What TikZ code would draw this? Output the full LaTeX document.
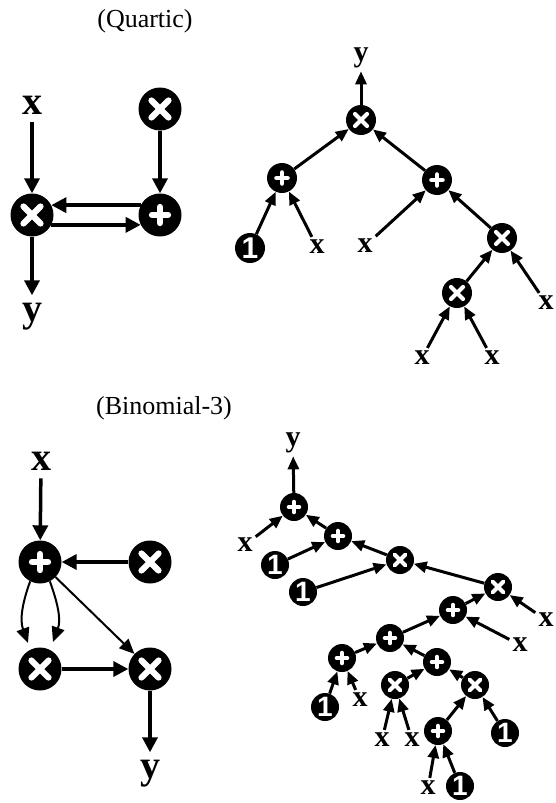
\documentclass[tikz,border=0pt]{standalone}
\usepackage{fontspec}
\setmainfont{Liberation Serif}
\newfontfamily\arialfont{Liberation Sans}
\usetikzlibrary{arrows.meta}

\begin{document}
\begin{tikzpicture}[x=1pt, y=-1pt,
    gate/.style={circle, fill=black, inner sep=0pt, minimum size=#1pt},
    mul/.style={gate=#1, path picture={
        \draw[white, line width=0.14*#1pt, line cap=round]
          (path picture bounding box.center) ++(-0.2*#1pt,-0.2*#1pt) -- ++(0.4*#1pt,0.4*#1pt)
          (path picture bounding box.center) ++(-0.2*#1pt,0.2*#1pt) -- ++(0.4*#1pt,-0.4*#1pt);}},
    add/.style={gate=#1, path picture={
        \draw[white, line width=0.16*#1pt, line cap=round]
          (path picture bounding box.center) ++(-0.18*#1pt,0) -- ++(0.36*#1pt,0)
          (path picture bounding box.center) ++(0,-0.18*#1pt) -- ++(0,0.36*#1pt);}},
    one/.style={gate=#1, text=white, font=\arialfont\bfseries\fontsize{#1}{#1}\selectfont},
    title/.style={font=\fontsize{26}{30}\selectfont},
    biglbl/.style={font=\bfseries\fontsize{40}{40}\selectfont, inner sep=8pt},
    lbl/.style={font=\bfseries\fontsize{30}{30}\selectfont, inner sep=3pt},
    bigarr/.style={line width=3.5pt, -{Triangle[length=15pt,width=15pt]}},
    thinarr/.style={line width=2pt, -{Triangle[length=15pt,width=13pt]}},
    arr/.style={line width=3pt, -{Triangle[length=13pt,width=11pt]}}]
  \useasboundingbox (0,0) rectangle (555,803);

  % Quartic: loop graph
  \node[title] (qtitle) at (145,21) {(Quartic)};
  \node[biglbl] (qx) at (32,105) {x};
  \node[mul=43] (qm1) at (32,215) {};
  \node[mul=43] (qm2) at (160,109) {};
  \node[add=43] (qa) at (160,215) {};
  \node[biglbl] (qy) at (32,317) {y};
  \draw[bigarr] (qx) -- (qm1);
  \draw[bigarr] (qm2) -- (qa);
  \draw[bigarr] (qa.153) -- (qm1.27);
  \draw[bigarr] (qm1.-27) -- (qa.207);
  \draw[bigarr] (qm1) -- (qy);

  % Quartic: expression tree
  \node[lbl] (ty) at (361,58) {y};
  \node[mul=30] (tr) at (361,120) {};
  \foreach \n/\x/\y in {ta1/282/178, ta2/437/180}
    \node[add=30] (\n) at (\x,\y) {};
  \foreach \n/\x/\y in {tm1/502/238, tm2/457/293}
    \node[mul=30] (\n) at (\x,\y) {};
  \node[one=30] (t1) at (250,248) {1};
  \foreach \n/\x/\y in {tx1/317/247, tx2/365/246, tx3/546/303, tx4/422/358, tx5/492/358}
    \node[lbl] (\n) at (\x,\y) {x};
  \draw[arr] (tr) -- (ty);
  \foreach \a/\b in {ta1/tr, ta2/tr, t1/ta1, tx1/ta1, tx2/ta2, tm1/ta2, tx3/tm1, tm2/tm1, tx4/tm2, tx5/tm2}
    \draw[arr] (\a) -- (\b);

  % Binomial-3: graph
  \node[title] (btitle) at (164,408) {(Binomial-3)};
  \node[biglbl] (bx) at (41,461) {x};
  \node[add=43] (ba) at (40,562) {};
  \node[mul=43] (bm1) at (150,562) {};
  \node[mul=43] (bm2) at (40,669) {};
  \node[mul=43] (bm3) at (150,669) {};
  \node[biglbl] (by) at (150,774) {y};
  \coordinate (tipl) at (28,643);
  \coordinate (tipr) at (53,642);
  \draw[bigarr] (bx) -- (ba);
  \draw[bigarr] (bm1) -- (ba);
  \draw[bigarr] (bm2) -- (bm3);
  \draw[bigarr] (bm3) -- (by);
  \draw[thinarr] (ba) -- (bm3);
  \draw[thinarr] (ba.243) to[out=250, in=110] (tipl);
  \draw[thinarr] (ba.297) to[out=290, in=70] (tipr);

  % Binomial-3: expression tree
  \node[lbl] (ry) at (293,443) {y};
  \foreach \n/\x/\y in {r1/294/507, r2/338/536, r5/453/610, r6/390/638, r7/342/658, r8/437/662, r11/438/731}
    \node[add=28] (\n) at (\x,\y) {};
  \foreach \n/\x/\y in {r3/400/560, r4/498/587, r9/395/685, r10/475/685}
    \node[mul=28] (\n) at (\x,\y) {};
  \foreach \n/\x/\y in {ro1/275/565, ro2/303/592, ro3/325/707, ro4/505/733, ro5/460/786}
    \node[one=28] (\n) at (\x,\y) {1};
  \foreach \n/\x/\y in {rx1/245/545, rx2/546/620, rx3/520/645, rx4/360/700, rx5/382/740, rx6/412/740, rx7/428/788}
    \node[lbl] (\n) at (\x,\y) {x};
  \draw[arr] (r1) -- (ry);
  \foreach \a/\b in {rx1/r1, r2/r1, ro1/r2, r3/r2, ro2/r3, r4/r3, rx2/r4, r5/r4, rx3/r5, r6/r5,
                     r7/r6, r8/r6, ro3/r7, rx4/r7, r9/r8, r10/r8, rx5/r9, rx6/r9, r11/r10, ro4/r10,
                     rx7/r11, ro5/r11}
    \draw[arr] (\a) -- (\b);
\end{tikzpicture}
\end{document}
